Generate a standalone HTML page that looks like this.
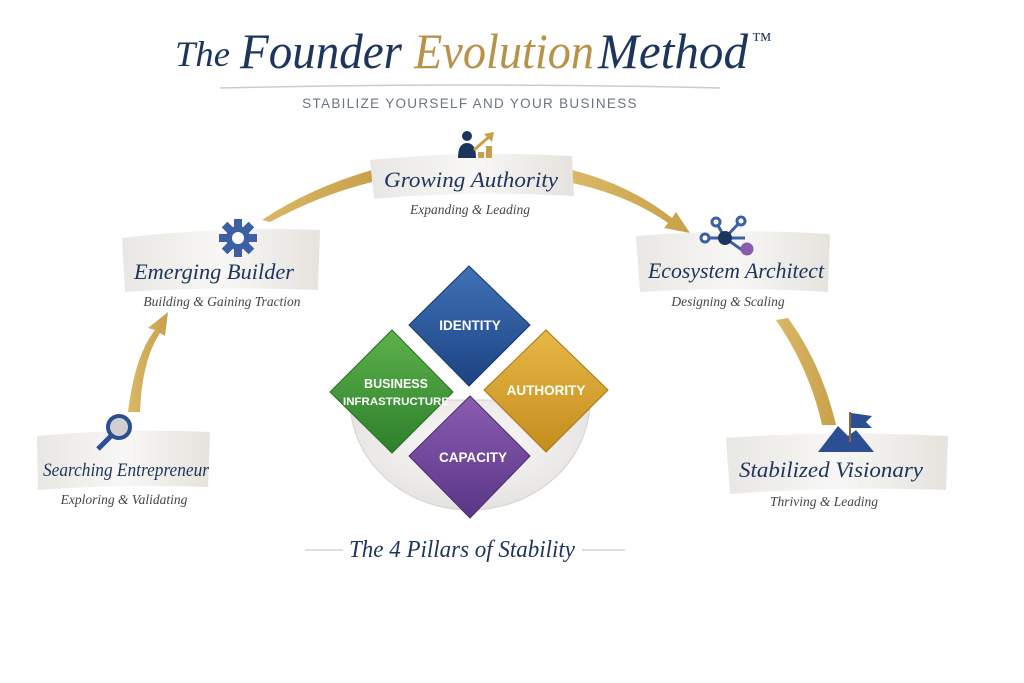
<!DOCTYPE html>
<html><head><meta charset="utf-8"><style>
html,body{margin:0;padding:0;background:#fff;}
svg{display:block}
.s{font-family:"Liberation Serif",serif;}
.a{font-family:"Liberation Sans",sans-serif;}
</style></head><body>
<svg width="1024" height="683" viewBox="0 0 1024 683" xmlns="http://www.w3.org/2000/svg">
<defs>
<linearGradient id="ban" x1="0" x2="1" y1="0" y2="0">
<stop offset="0" stop-color="#e9e7e3"/><stop offset="0.5" stop-color="#f8f7f5"/><stop offset="1" stop-color="#e6e3de"/></linearGradient>
<linearGradient id="gold" x1="0" x2="1"><stop offset="0" stop-color="#d9b866"/><stop offset="1" stop-color="#c9a04a"/></linearGradient>
<linearGradient id="gb" x1="0" y1="0" x2="0" y2="1"><stop offset="0" stop-color="#3f72b5"/><stop offset="1" stop-color="#1d4383"/></linearGradient>
<linearGradient id="gg" x1="0" y1="0" x2="0" y2="1"><stop offset="0" stop-color="#5db14a"/><stop offset="1" stop-color="#2e7f2c"/></linearGradient>
<linearGradient id="gy" x1="0" y1="0" x2="0" y2="1"><stop offset="0" stop-color="#e8b845"/><stop offset="1" stop-color="#c48d1e"/></linearGradient>
<linearGradient id="gp" x1="0" y1="0" x2="0" y2="1"><stop offset="0" stop-color="#8a5cb0"/><stop offset="1" stop-color="#5a3687"/></linearGradient>
<radialGradient id="disc" cx="0.5" cy="0.4" r="0.6"><stop offset="0" stop-color="#fafafa"/><stop offset="1" stop-color="#e4e2df"/></radialGradient>
</defs>

<!-- title -->
<g class="s" font-style="italic">
<text x="175" y="66" font-size="36" fill="#1c355e" textLength="55" lengthAdjust="spacingAndGlyphs">The</text>
<text x="240" y="68" font-size="50" fill="#1c355e" textLength="162" lengthAdjust="spacingAndGlyphs">Founder</text>
<text x="414" y="68" font-size="50" fill="#b8924a" textLength="180" lengthAdjust="spacingAndGlyphs">Evolution</text>
<text x="598" y="68" font-size="50" fill="#1c355e" textLength="150" lengthAdjust="spacingAndGlyphs">Method</text>
</g>
<text class="s" x="752" y="46" font-size="20" fill="#1c355e">™</text>
<path d="M220 88 Q470 82 720 88" stroke="#c9ccd3" stroke-width="1.5" fill="none"/>
<text class="a" x="470" y="108" font-size="13.5" text-anchor="middle" fill="#6b7483" letter-spacing="1.3">STABILIZE YOURSELF AND YOUR BUSINESS</text>

<!-- arrows -->
<path d="M128 412 Q135 355 155 330 L148 328 L168 312 L165 336 L160 333 Q142 360 140 412 Z" fill="url(#gold)"/>
<path d="M262 220 Q310 188 372 170 L372 182 Q320 195 270 222 Z" fill="url(#gold)"/>
<path d="M572 170 Q630 185 672 218 L676 212 L690 233 L664 228 L668 223 Q628 195 572 183 Z" fill="url(#gold)"/>
<path d="M776 320 Q810 370 822 425 L836 425 Q822 365 788 318 Z" fill="url(#gold)"/>

<!-- banners -->
<path d="M370 160 Q470 150 572 156 L574 196 Q470 190 374 199 Z" fill="url(#ban)"/>
<path d="M122 238 Q220 226 320 230 L318 290 Q220 286 125 292 Z" fill="url(#ban)"/>
<path d="M636 236 Q735 228 830 234 L828 292 Q735 286 640 292 Z" fill="url(#ban)"/>
<path d="M37 436 Q120 428 210 432 L208 487 Q120 484 38 490 Z" fill="url(#ban)"/>
<path d="M726 438 Q835 430 948 436 L946 490 Q835 486 730 494 Z" fill="url(#ban)"/>

<!-- icons -->
<circle cx="467" cy="136" r="5" fill="#1c355e"/>
<path d="M458 158 Q458 143 467 143 Q476 143 476 158 Z" fill="#1c355e"/>
<path d="M478 158 L478 152 L484 152 L484 158 Z M486 158 L486 146 L492 146 L492 158Z" fill="#c9a04a"/>
<path d="M474 150 L490 136" stroke="#c9a04a" stroke-width="3"/><path d="M484 134 L494 132 L492 142Z" fill="#c9a04a"/>

<g transform="translate(238,238)" fill="#3c5fa5">
<circle r="12"/>
<g><rect x="-4" y="-19" width="8" height="38"/><rect x="-19" y="-4" width="38" height="8"/>
<rect x="-4" y="-19" width="8" height="38" transform="rotate(45)"/><rect x="-4" y="-19" width="8" height="38" transform="rotate(-45)"/></g>
<circle r="6" fill="#fff"/></g>

<g stroke="#3c5fa5" stroke-width="3" fill="#fff">
<line x1="705" y1="238" x2="745" y2="238"/><line x1="725" y1="238" x2="716" y2="222"/><line x1="725" y1="238" x2="740" y2="222"/><line x1="725" y1="238" x2="742" y2="250"/>
<circle cx="725" cy="238" r="7" fill="#1c355e" stroke="none"/>
<circle cx="705" cy="238" r="4"/><circle cx="716" cy="222" r="4"/><circle cx="741" cy="221" r="4"/><circle cx="747" cy="249" r="5" fill="#8a5cb0" stroke="#8a5cb0"/>
</g>

<circle cx="119" cy="427" r="11" fill="#d0d0d0" stroke="#2b4f92" stroke-width="4"/>
<line x1="111" y1="436" x2="98" y2="449" stroke="#2b4f92" stroke-width="5"/>

<path d="M818 452 L838 426 L848 436 L856 430 L874 452 Z" fill="#2b4f92"/>
<line x1="850" y1="442" x2="850" y2="412" stroke="#8a6a3a" stroke-width="2"/>
<path d="M851 413 L872 416 L866 422 L872 428 L851 428 Z" fill="#2b4f92"/>

<!-- banner text -->
<g class="s" font-style="italic" fill="#1c355e" font-size="22" text-anchor="middle">
<text x="471" y="187" textLength="174" lengthAdjust="spacingAndGlyphs">Growing Authority</text>
<text x="214" y="279" textLength="160" lengthAdjust="spacingAndGlyphs">Emerging Builder</text>
<text x="736" y="278" textLength="176" lengthAdjust="spacingAndGlyphs">Ecosystem Architect</text>
<text x="126" y="476" font-size="19" textLength="166" lengthAdjust="spacingAndGlyphs">Searching Entrepreneur</text>
<text x="831" y="477" textLength="184" lengthAdjust="spacingAndGlyphs">Stabilized Visionary</text>
</g>
<g class="s" font-style="italic" fill="#444" font-size="13.5" text-anchor="middle">
<text x="470" y="214">Expanding &amp; Leading</text>
<text x="222" y="306">Building &amp; Gaining Traction</text>
<text x="728" y="306">Designing &amp; Scaling</text>
<text x="124" y="504">Exploring &amp; Validating</text>
<text x="824" y="506">Thriving &amp; Leading</text>
</g>

<!-- pillars -->
<path d="M350 400 A120 110 0 0 0 590 400 Z" fill="url(#disc)" stroke="#d5d3cf"/>
<path d="M469 266 L530 325 L469 386 L409 325 Z" fill="url(#gb)" stroke="#18376e"/>
<path d="M392 330 L453 392 L392 453 L330 392 Z" fill="url(#gg)" stroke="#2a6d27"/>
<path d="M546 330 L608 390 L546 452 L484 390 Z" fill="url(#gy)" stroke="#a87617"/>
<path d="M470 396 L530 456 L470 518 L409 456 Z" fill="url(#gp)" stroke="#4a2b70"/>
<g class="a" font-weight="bold" fill="#fff" text-anchor="middle">
<text x="470" y="330" font-size="13.5">IDENTITY</text>
<text x="396" y="388" font-size="12.5">BUSINESS</text>
<text x="396" y="405" font-size="11" textLength="106" lengthAdjust="spacingAndGlyphs">INFRASTRUCTURE</text>
<text x="546" y="395" font-size="13.5">AUTHORITY</text>
<text x="473" y="462" font-size="13.5">CAPACITY</text>
</g>

<line x1="305" y1="550" x2="343" y2="550" stroke="#b8bcc4"/>
<line x1="582" y1="550" x2="625" y2="550" stroke="#b8bcc4"/>
<text class="s" x="462" y="557" font-size="24" font-style="italic" fill="#1c355e" text-anchor="middle" textLength="226" lengthAdjust="spacingAndGlyphs">The 4 Pillars of Stability</text>
</svg>
</body></html>
